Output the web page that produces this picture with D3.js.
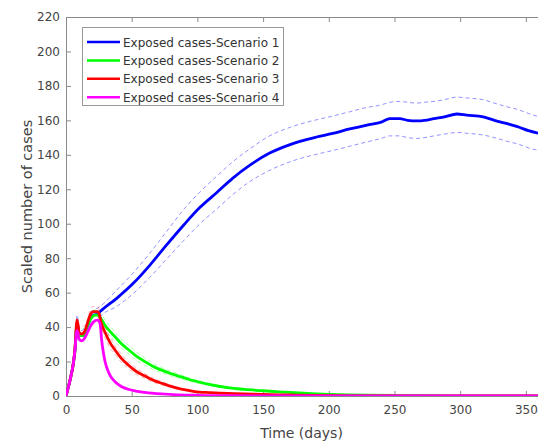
<!DOCTYPE html>
<html><head><meta charset="utf-8">
<script src="https://cdn.jsdelivr.net/npm/d3@7/dist/d3.min.js"></script>
<style>body{margin:0;background:#fff}svg{display:block}text{font-family:"DejaVu Sans",sans-serif}</style>
</head><body><svg id="c" width="538" height="444"></svg>
<script>
const xTicks=[0,50,100,150,200,250,300,350];
const yTicks=[0,20,40,60,80,100,120,140,160,180,200,220];
const seriesNames=["Exposed cases-Scenario 1","Exposed cases-Scenario 2","Exposed cases-Scenario 3","Exposed cases-Scenario 4"];
const seriesColors=["#0000ff","#00ff00","#ff0000","#ff00ff"];

const blueDays=[0,3,5.6,7,8,8.5,10,12,14.5,17,19,21,24,26,38.6,51.2,63.9,76.6,89.3,102,114.6,127,140,155,170,178,190,203,216,229,240,246.5,254,260,267,273,280,288,297.5,305,317.5,326,335,345,352,360];
const blue=[0,9,19,28,40,42,36,35,37,42,46,47,47.5,49,56.7,65.4,76,87.7,99,109.5,118,126.5,134,141,145.8,147.8,150.2,152.4,155,157.3,159,161,161,160,159.7,160,161,162,163.7,163,162,160,158.2,156,154,152.5];
const blueUpper=[0,10,21,31,44,47,40,38,40,45,49,50,51,52,61.5,71.5,83,95.5,108,118.5,127.5,136,143.5,151,155.8,157.8,160.2,162.5,165,167.5,169,170.5,171,170.5,170,170.5,171,172,173.5,173,172,170,168,166,164,162];
const blueLower=[0,8,17,25,36,38,32,32,34,39,43,44,44,46,52,59.5,69,79.5,90,100,108.5,117,124.5,131,135.8,137.8,140.2,142.5,145,147.5,149.5,151,151,150,149.5,150,151,152,153,152.5,151.5,150,148,146,144,142.5];

const greenDays=[0,3,5.6,7,8,8.5,10,12,14.5,17,19,22,24,26.6,29.7,33.5,37.3,42,47.4,53,60,66,72.8,79,85.5,92,98,110,123,136,149,162,174,187,200,215,230,250,270,300,330,360];
const green=[0,9,19,28,39,41,35,35,37,42,45,47,47,45,41,37.5,34.4,30.5,27,23.5,20,17.3,15,13.2,11.6,10,8.7,6.6,4.8,3.8,3.1,2.4,1.9,1.4,1,0.7,0.5,0.3,0.15,0.05,0,0];
const greenBandDays=[5.6,8,10,14.5,19,22,26.6,29.7,33.5,37.3,42,47.4,53,60,66,72.8,79,85.5,92,98,110,123];
const greenUpper=[20,42,38,40,48,50,48,44,40.5,37,33,29.5,26,22,19,16.5,14.5,12.8,11,9.6,7.2,5.3];
const greenLower=[18,36,32,34,42,44,42,38,34.5,31.5,28,24.5,21,18,15.5,13.5,11.9,10.4,9,7.8,6,4.3];

const redDays=[0,3,5.6,7,8,8.5,10,12,14.5,17,19,21,24,25.5,26.6,29.7,33.5,37.3,42,47.4,53,60,66,72.8,79,85.5,92,98,110,123,136,149,162,175,200,225,250,300,360];
const red=[0,9,19,29,42,44,37,36,38,44,48,49,49,47,43,37,31,26.7,22,18,14.5,11.6,9.3,7.4,5.8,4.4,3.4,2.6,2,1.5,1.2,1,0.7,0.5,0.2,0.1,0,0,0];
const redBandDays=[5.6,8,10,14.5,19,21,24,26.6,29.7,33.5,37.3,42,47.4,53,60,66,72.8,79,85.5];
const redUpper=[20,45,40,41,51,52,52,46,40,34,29.2,24.3,20,16.3,13,10.5,8.4,6.6,5];
const redLower=[18,39,34,35,45,46,46,40,34,28,24.2,19.7,16,12.7,10.2,8.1,6.4,5,3.8];

const magentaDays=[0,3,5.6,7,8,8.5,10,12,14.5,17,19,21,24,25.9,27.2,28.5,29.7,31.5,33.5,37.3,42.4,47.4,53,60,72.8,85,100,125,150,200,360];
const magenta=[0,9,19,28,37,38,33,32,34,38,41,43,44,42,32,25,20,15.5,12,8.3,5.4,3.9,2.9,2.1,1.2,0.7,0.4,0.2,0.1,0,0];

const svg=d3.select("#c");
const L=66,R=539,T=17,B=396;
const x=d3.scaleLinear().domain([0,360]).range([L,R]);
const y=d3.scaleLinear().domain([0,220]).range([B,T]);
const axisCol="#8a8a8a", textCol="#444";

svg.append("clipPath").attr("id","pc").append("rect").attr("x",L).attr("y",T).attr("width",R-L).attr("height",B-T);

function styleAxis(g){
  g.select(".domain").attr("stroke",axisCol);
  g.selectAll(".tick line").attr("stroke",axisCol);
  g.selectAll(".tick text").attr("fill",textCol).style("font-size","12px").style("font-family","DejaVu Sans");
}
const gx=svg.append("g").attr("transform",`translate(0,${B})`).call(d3.axisBottom(x).tickValues(xTicks).tickSize(-5).tickPadding(9).tickSizeOuter(0));
styleAxis(gx);
const gy=svg.append("g").attr("transform",`translate(${L},0)`).call(d3.axisLeft(y).tickValues(yTicks).tickSize(-5).tickPadding(6).tickSizeOuter(0));
styleAxis(gy);
const gt=svg.append("g").attr("transform",`translate(0,${T})`).call(d3.axisTop(x).tickValues(xTicks).tickSize(-5).tickFormat("").tickSizeOuter(0));
styleAxis(gt);

svg.append("text").attr("x",(L+R)/2-1).attr("y",438).attr("text-anchor","middle").attr("fill",textCol).style("font-size","14px").text("Time (days)");
svg.append("text").attr("transform",`translate(32,${(T+B)/2}) rotate(-90)`).attr("text-anchor","middle").attr("fill",textCol).style("font-size","14.5px").text("Scaled number of cases");

const plot=svg.append("g").attr("clip-path","url(#pc)");
const line=(dx)=>d3.line().x((d,i)=>x(dx[i])).y(d=>y(d)).curve(d3.curveMonotoneX);
function band(dx,vals,col,op){
  plot.append("path").attr("d",line(dx)(vals)).attr("fill","none").attr("stroke",col).attr("stroke-opacity",op).attr("stroke-width",1).attr("stroke-dasharray","4,3");
}
band(blueDays,blueUpper,"#3a3aff",0.55);
band(blueDays,blueLower,"#3a3aff",0.55);
band(greenBandDays,greenUpper,"#00ff00",0.35);
band(greenBandDays,greenLower,"#00ff00",0.35);
band(redBandDays,redUpper,"#ff0000",0.3);
band(redBandDays,redLower,"#ff0000",0.3);

const series=[[blueDays,blue],[greenDays,green],[redDays,red],[magentaDays,magenta]];
series.forEach((s,i)=>{
  plot.append("path").attr("d",line(s[0])(s[1])).attr("fill","none").attr("stroke",seriesColors[i]).attr("stroke-width",2.8).attr("stroke-linejoin","round");
});

const lg=svg.append("g");
lg.append("rect").attr("x",82.5).attr("y",27.5).attr("width",201).attr("height",78).attr("fill","#fff").attr("stroke","#999");
seriesNames.forEach((n,i)=>{
  const yy=42+i*18.4;
  lg.append("line").attr("x1",87).attr("x2",120).attr("y1",yy).attr("y2",yy).attr("stroke",seriesColors[i]).attr("stroke-width",2.5);
  lg.append("text").attr("x",123).attr("y",yy+4.5).attr("fill","#333").style("font-size","12px").text(n);
});
</script></body></html>
